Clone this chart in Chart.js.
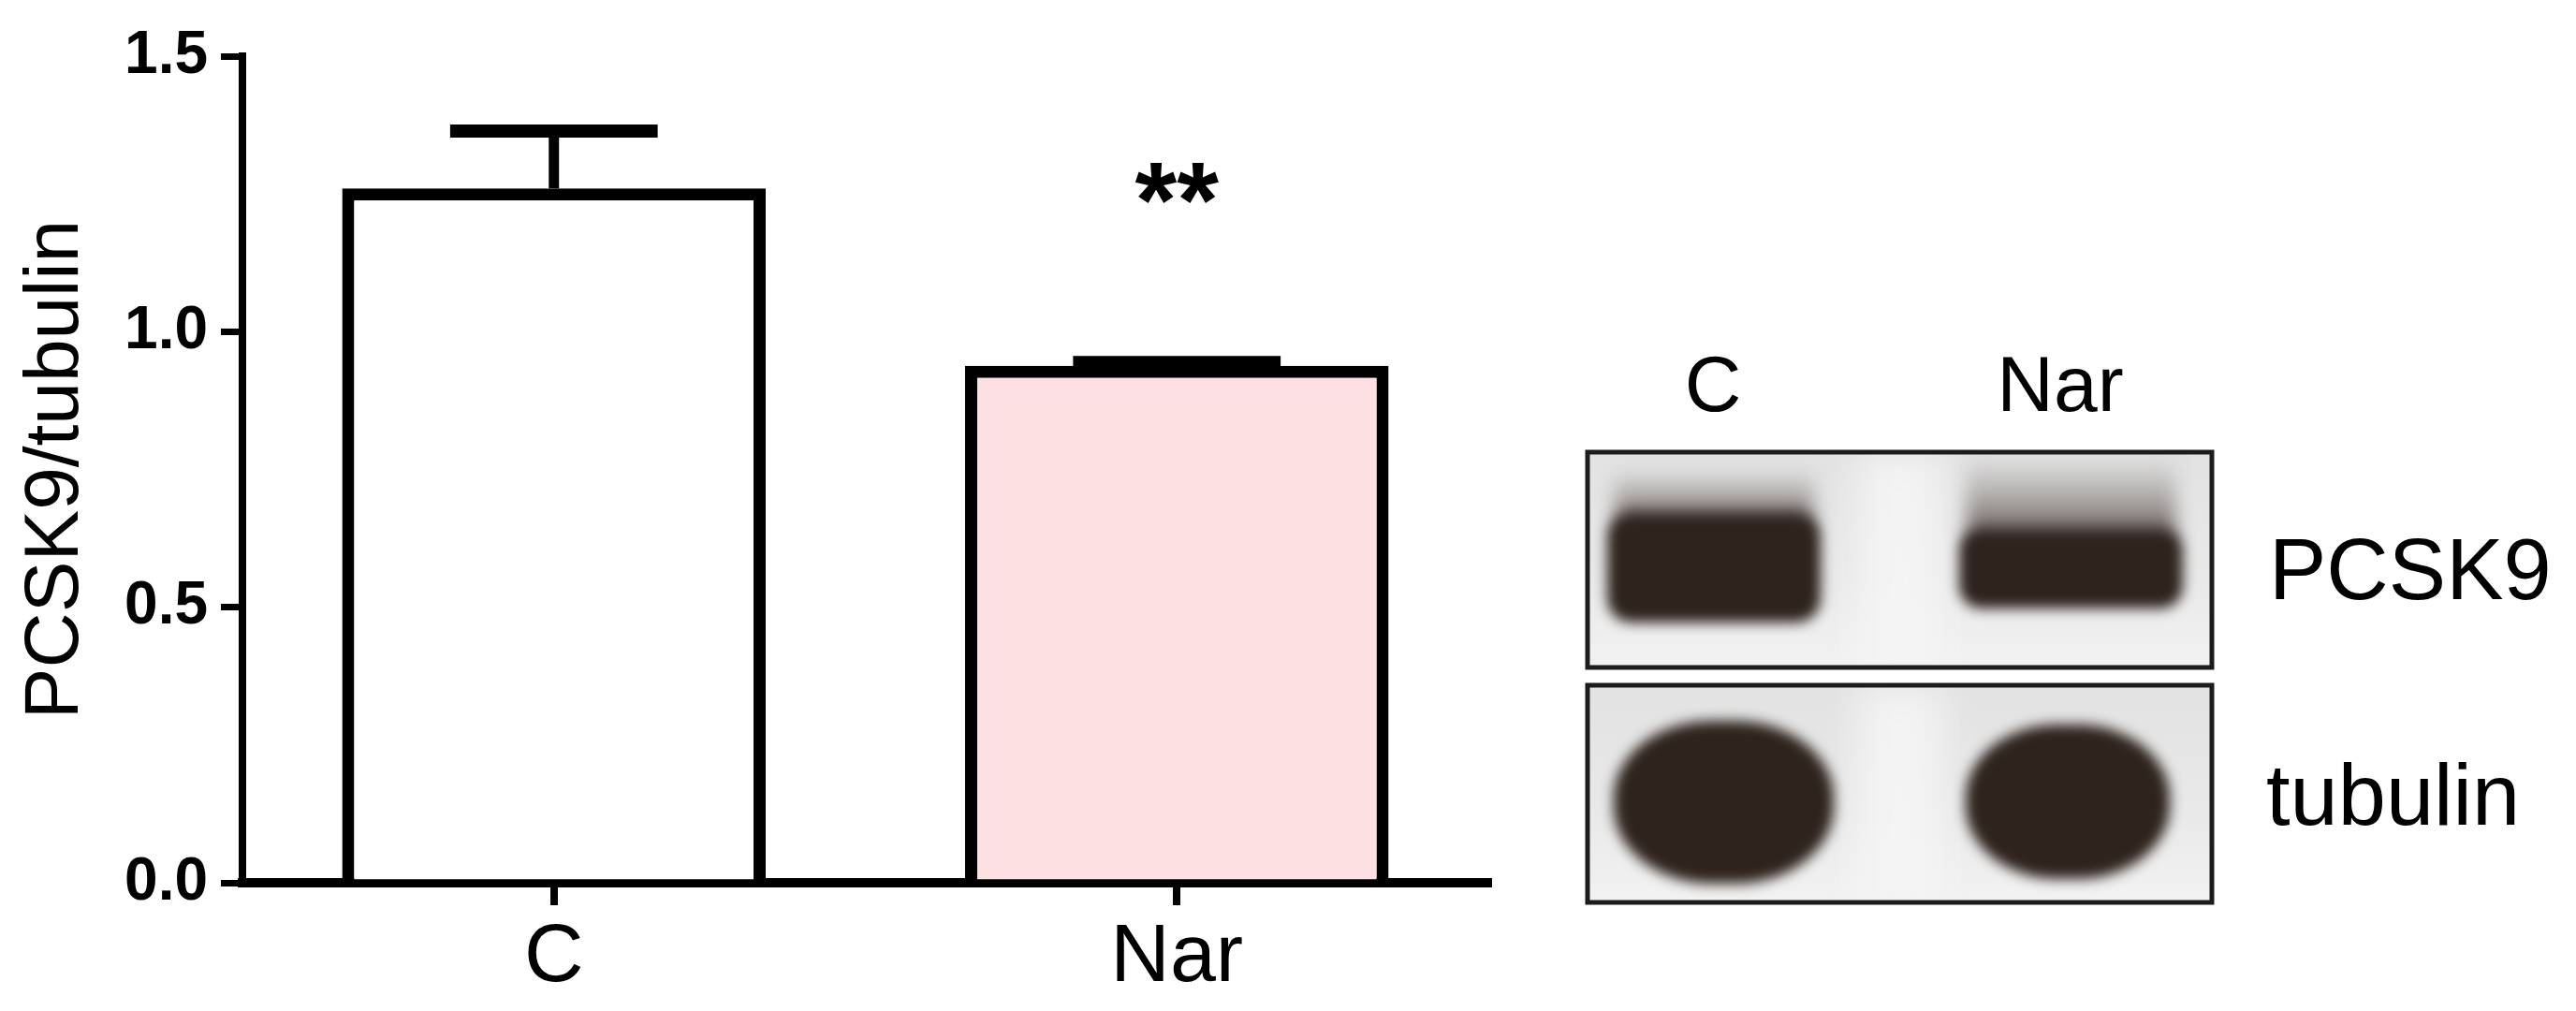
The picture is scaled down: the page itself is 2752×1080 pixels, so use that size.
<!DOCTYPE html>
<html>
<head>
<meta charset="utf-8">
<script src="https://cdn.jsdelivr.net/npm/chart.js@4.4.1/dist/chart.umd.min.js"></script>
<style>
  html, body { margin: 0; padding: 0; background: #fff; }
  body { width: 2752px; height: 1080px; position: relative; overflow: hidden;
         font-family: "Liberation Sans", Arial, sans-serif; }
  #barChart { position: absolute; left: 0; top: 0; }
  #blot { position: absolute; left: 1690px; top: 478px; }
  .lbl { position: absolute; line-height: 1; color: #000; white-space: nowrap; }
  .lane { font-size: 84px; top: 368px; transform: translateX(-50%); }
  .band { font-size: 92px; }
</style>
</head>
<body>
<canvas id="barChart" width="1660" height="1080"></canvas>
<canvas id="blot" width="680" height="492"></canvas>
<div class="lbl lane" style="left:1830px">C</div>
<div class="lbl lane" style="left:2201px">Nar</div>
<div class="lbl band" style="left:2424px; top:562px">PCSK9</div>
<div class="lbl band" style="left:2421px; top:803px">tubulin</div>

<script>
// ---- data ----
const categories = ['C', 'Nar'];
const means = [1.26, 0.938];
const sems = [0.104, 0.006];
const yTicks = [0, 0.5, 1.0, 1.5];
const sigMarks = ['', '**'];
const sigLevels = [null, 1.27];

const FONT = '"Liberation Sans", Arial, sans-serif';
Chart.defaults.font.family = FONT;
Chart.defaults.color = '#000';

// error bars (mean + SEM, upper only)
const errorBars = {
    id: 'errorBars',
    afterDatasetsDraw(chart) {
        const { ctx, scales: { y } } = chart;
        const meta = chart.getDatasetMeta(0);
        ctx.save();
        ctx.strokeStyle = '#000';
        ctx.lineCap = 'butt';
        meta.data.forEach((bar, i) => {
            const top = y.getPixelForValue(means[i] + sems[i]);
            const half = bar.width * 0.245;
            ctx.lineWidth = 11;
            ctx.beginPath();
            ctx.moveTo(bar.x, bar.y);
            ctx.lineTo(bar.x, top);
            ctx.stroke();
            ctx.lineWidth = 14;
            ctx.beginPath();
            ctx.moveTo(bar.x - half, top);
            ctx.lineTo(bar.x + half, top);
            ctx.stroke();
        });
        ctx.restore();
    }
};

// significance stars
const sigStars = {
    id: 'sigStars',
    afterDatasetsDraw(chart) {
        const { ctx, scales: { x, y } } = chart;
        ctx.save();
        ctx.font = 'bold 115px ' + FONT;
        ctx.fillStyle = '#000';
        ctx.textAlign = 'center';
        ctx.textBaseline = 'alphabetic';
        sigMarks.forEach((m, i) => {
            if (!m) return;
            const mt = ctx.measureText(m);
            const cy = y.getPixelForValue(sigLevels[i]);
            const base = cy + (mt.actualBoundingBoxAscent - mt.actualBoundingBoxDescent) / 2;
            ctx.fillText(m, x.getPixelForValue(i), base);
        });
        ctx.restore();
    }
};

new Chart(document.getElementById('barChart'), {
    type: 'bar',
    data: {
        labels: categories,
        datasets: [{
            data: means,
            backgroundColor: ['#ffffff', '#fde0e1'],
            borderColor: '#000',
            borderWidth: 13,
            borderSkipped: 'start',
            categoryPercentage: 1,
            barPercentage: 0.68
        }]
    },
    options: {
        responsive: false,
        animation: false,
        layout: { padding: { top: 60, right: 70, bottom: 0, left: 0 } },
        plugins: { legend: { display: false }, tooltip: { enabled: false } },
        scales: {
            x: {
                offset: true,
                z: 1,
                grid: { drawOnChartArea: false, offset: false, tickLength: 24, lineWidth: 8, color: '#000' },
                border: { width: 10, color: '#000' },
                ticks: { font: { size: 88 }, color: '#000', padding: 4 },
                afterFit: s => { s.height = 137; s.paddingLeft = 0; s.paddingRight = 0; }
            },
            y: {
                min: 0,
                max: 1.5,
                afterBuildTicks: s => { s.ticks = yTicks.map(v => ({ value: v })); },
                ticks: {
                    callback: v => Number(v).toFixed(1),
                    font: { size: 64, weight: 'bold' },
                    color: '#000',
                    padding: 14
                },
                grid: { drawOnChartArea: false, tickLength: 23, lineWidth: 7, color: '#000' },
                border: { width: 8, color: '#000' },
                title: {
                    display: true,
                    text: 'PCSK9/tubulin',
                    font: { size: 82 },
                    color: '#000',
                    padding: { top: 11, bottom: 0 }
                },
                afterFit: s => { s.width = 259; s.paddingTop = 0; s.paddingBottom = 0; }
            }
        }
    },
    plugins: [errorBars, sigStars]
});

// ---- western blot picture (right panel) ----
const blot = document.getElementById('blot');
const bx = blot.getContext('2d');

function drawPanel(top, h, bands, smear) {
    const left = 6, w = 667;
    bx.save();
    bx.beginPath();
    bx.rect(left, top, w, h);
    bx.clip();
    const g = bx.createLinearGradient(0, top, 0, top + h);
    g.addColorStop(0, '#e2e2e2');
    g.addColorStop(0.6, '#e9e9e9');
    g.addColorStop(1, '#f2f2f2');
    bx.fillStyle = g;
    bx.fillRect(left, top, w, h);
    // lighter gap between lanes
    bx.filter = 'blur(20px)';
    bx.fillStyle = 'rgba(246,246,246,0.85)';
    bx.fillRect(295, top, 90, h);
    bx.filter = 'none';
    if (smear) {
        bands.forEach(b => {
            const sg = bx.createLinearGradient(0, b.y - b.smear, 0, b.y + 12);
            sg.addColorStop(0, 'rgba(70,60,55,0)');
            sg.addColorStop(0.5, 'rgba(70,60,55,0.35)');
            sg.addColorStop(1, 'rgba(60,50,45,0.8)');
            bx.filter = 'blur(10px)';
            bx.fillStyle = sg;
            bx.fillRect(b.x + 8, b.y - b.smear, b.w - 16, b.smear + 12);
            bx.filter = 'none';
        });
    }
    bands.forEach(b => {
        bx.filter = 'blur(7px)';
        bx.fillStyle = '#2e231d';
        bx.beginPath();
        bx.roundRect(b.x, b.y, b.w, b.h, b.r);
        bx.fill();
        bx.filter = 'none';
    });
    bx.restore();
    bx.lineWidth = 5;
    bx.strokeStyle = '#1c1c1c';
    bx.strokeRect(left, top, w, h);
}

drawPanel(5, 230, [
    { x: 27, y: 69, w: 228, h: 118, r: 26, smear: 45 },
    { x: 403, y: 86, w: 239, h: 86, r: 24, smear: 75 }
], true);
drawPanel(254, 232, [
    { x: 34, y: 292, w: 235, h: 174, r: { x: 105, y: 82 } },
    { x: 410, y: 296, w: 218, h: 165, r: { x: 98, y: 78 } }
], false);
</script>
</body>
</html>
